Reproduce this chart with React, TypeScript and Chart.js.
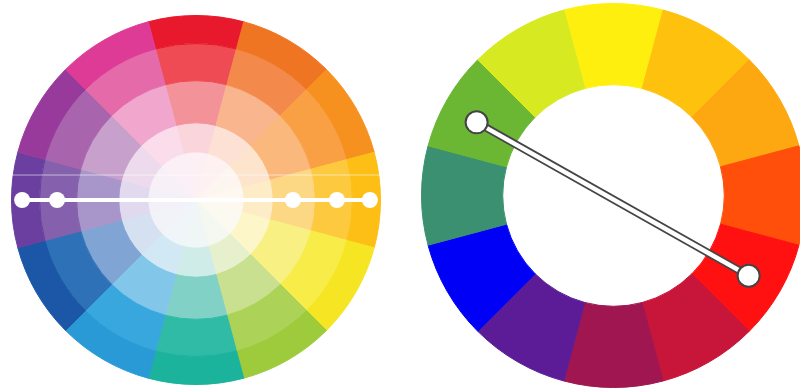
import React, { useEffect, useRef } from "react";
import { Chart, registerables } from "chart.js";

Chart.register(...registerables);

// Left wheel: 12 hue sectors (clockwise from 12 o'clock), 5 rings outer -> inner
const hueSectors = ["Red", "Red-Orange", "Orange", "Yellow-Orange", "Yellow", "Yellow-Green", "Green", "Blue-Green", "Blue", "Blue-Violet", "Violet", "Red-Violet"];
const sectorShare = [1, 1, 1, 1, 1, 1, 1, 1, 1, 1, 1, 1];

const ring1Colors = ["#e8192c", "#f07522", "#f6901f", "#fdbe16", "#f6e523", "#9dcb3c", "#1bb39b", "#2a9ad6", "#1b57a6", "#6a3f9f", "#973a9c", "#de3b97"];
const ring2Colors = ["#ef4b54", "#f38a4b", "#f8a043", "#fdca3f", "#f8ec48", "#acd257", "#30bba7", "#38a7de", "#2e71b7", "#8460ad", "#a864ac", "#e56aa9"];
const ring3Colors = ["#f4929a", "#f9b68e", "#fab87c", "#fdd884", "#f9f083", "#c8e08f", "#82d1c7", "#82c6ea", "#80a5d4", "#a896cb", "#c7a0cc", "#f0a6cd"];
const ring4Colors = ["#fad6dc", "#fce1d4", "#fde4cd", "#feecc6", "#fcf6c8", "#e7f0cd", "#cfece8", "#d2e9f5", "#d5e1f1", "#e1d9ed", "#eddbed", "#fadcea"];
const coreColors = ["#fcf0f4", "#fdf2f1", "#fdf5f0", "#fdf8f0", "#fbf9f0", "#f5f8f1", "#f0f6f6", "#f0f5f9", "#f1f3f9", "#f4f0f8", "#f7f0f7", "#fbf0f5"];
const ringWeights = [28, 37, 42, 29, 48];

// Left wheel overlay: horizontal bar with dots (in wheel-radius units)
const leftDotsX = [-0.94, -0.751, 0.524, 0.762, 0.94];
const leftDotsY = [0, 0, 0, 0, 0];
const leftBarX = [-0.94, 0.94];
const leftBarY = [0, 0];
const seamX = [-1, 1];
const seamY = [0.135, 0.135];

// Right wheel: 12 sectors clockwise from 12 o'clock
const rightSectors = ["Yellow", "Yellow-Orange", "Orange", "Red-Orange", "Red", "Crimson", "Red-Violet", "Violet", "Blue", "Blue-Green", "Green", "Yellow-Green"];
const rightColors = ["#ffef0e", "#fec20e", "#fea811", "#ff4f0b", "#ff1111", "#c8153a", "#9f1650", "#5c1c98", "#0000f6", "#3a9070", "#6bb733", "#d6e921"];

// Right wheel overlay: complementary connector (wheel-radius units)
const rightLinkX = [-0.711, 0.702];
const rightLinkY = [0.38, -0.417];

function ringDataset(colors: string[], weight: number) {
  return {
    data: sectorShare,
    backgroundColor: colors,
    borderColor: colors,
    borderWidth: 1,
    hoverBorderWidth: 1,
    hoverOffset: 0,
    offset: 0,
    weight,
  };
}

function pts(xs: number[], ys: number[]) {
  return xs.map((x, i) => ({ x, y: ys[i] }));
}

const hiddenScales = {
  x: { type: "linear" as const, min: -1, max: 1, display: false },
  y: { type: "linear" as const, min: -1, max: 1, display: false },
};

const commonOpts = {
  responsive: false,
  animation: false as const,
  events: [] as any[],
  layout: { padding: 0, autoPadding: false },
  plugins: { legend: { display: false }, tooltip: { enabled: false } },
};

function useChart(ref: React.RefObject<HTMLCanvasElement>, make: (c: HTMLCanvasElement) => Chart) {
  useEffect(() => {
    if (!ref.current) return;
    const ch = make(ref.current);
    return () => ch.destroy();
  }, []);
}

export default function App() {
  const leftWheel = useRef<HTMLCanvasElement>(null);
  const leftOver = useRef<HTMLCanvasElement>(null);
  const rightWheel = useRef<HTMLCanvasElement>(null);
  const rightOver = useRef<HTMLCanvasElement>(null);

  useChart(leftWheel, (c) =>
    new Chart(c, {
      type: "doughnut",
      data: {
        labels: hueSectors,
        datasets: [
          ringDataset(ring1Colors, ringWeights[0]),
          ringDataset(ring2Colors, ringWeights[1]),
          ringDataset(ring3Colors, ringWeights[2]),
          ringDataset(ring4Colors, ringWeights[3]),
          ringDataset(coreColors, ringWeights[4]),
        ] as any,
      },
      options: { ...commonOpts, cutout: 0, rotation: -15 } as any,
    })
  );

  useChart(leftOver, (c) =>
    new Chart(c, {
      type: "scatter",
      data: {
        datasets: [
          {
            data: pts(leftDotsX, leftDotsY),
            pointRadius: 8,
            pointBackgroundColor: "#ffffff",
            pointBorderWidth: 0,
            showLine: false,
            clip: false,
            order: 0,
          },
          {
            data: pts(leftBarX, leftBarY),
            showLine: true,
            borderColor: "#ffffff",
            borderWidth: 4,
            pointRadius: 0,
            clip: false,
            order: 1,
          },
          {
            data: pts(seamX, seamY),
            showLine: true,
            borderColor: "rgba(255,255,255,0.55)",
            borderWidth: 1,
            pointRadius: 0,
            clip: false,
            order: 2,
          },
        ] as any,
      },
      options: { ...commonOpts, scales: hiddenScales } as any,
    })
  );

  useChart(rightWheel, (c) =>
    new Chart(c, {
      type: "doughnut",
      data: {
        labels: rightSectors,
        datasets: [
          {
            data: sectorShare,
            backgroundColor: rightColors,
            borderColor: rightColors,
            borderWidth: 1,
            hoverBorderWidth: 1,
            hoverOffset: 0,
            offset: 0,
          },
        ] as any,
      },
      options: { ...commonOpts, cutout: "57.7%", rotation: -15 } as any,
    })
  );

  useChart(rightOver, (c) =>
    new Chart(c, {
      type: "scatter",
      data: {
        datasets: [
          {
            data: pts(rightLinkX, rightLinkY),
            pointRadius: 11,
            pointBackgroundColor: "#ffffff",
            pointBorderColor: "#444444",
            pointBorderWidth: 2,
            showLine: false,
            clip: false,
            order: 0,
          },
          {
            data: pts(rightLinkX, rightLinkY),
            showLine: true,
            borderColor: "#ffffff",
            borderWidth: 4.5,
            pointRadius: 0,
            clip: false,
            order: 1,
          },
          {
            data: pts(rightLinkX, rightLinkY),
            showLine: true,
            borderColor: "#454545",
            borderWidth: 8,
            pointRadius: 0,
            clip: false,
            order: 2,
          },
        ] as any,
      },
      options: { ...commonOpts, scales: hiddenScales } as any,
    })
  );

  const box = (left: number, top: number, size: number): React.CSSProperties => ({
    position: "absolute",
    left,
    top,
    width: size,
    height: size,
  });

  return (
    <div
      style={{
        position: "absolute",
        left: 0,
        top: 0,
        width: 800,
        height: 390,
        overflow: "hidden",
        background: "#ffffff",
      }}
    >
      <canvas ref={leftWheel} width={370} height={370} style={box(11, 15, 370)} />
      <canvas ref={leftOver} width={370} height={370} style={box(11, 15, 370)} />
      <canvas ref={rightWheel} width={385} height={385} style={box(421, 3, 385)} />
      <canvas ref={rightOver} width={385} height={385} style={box(421, 3, 385)} />
    </div>
  );
}
